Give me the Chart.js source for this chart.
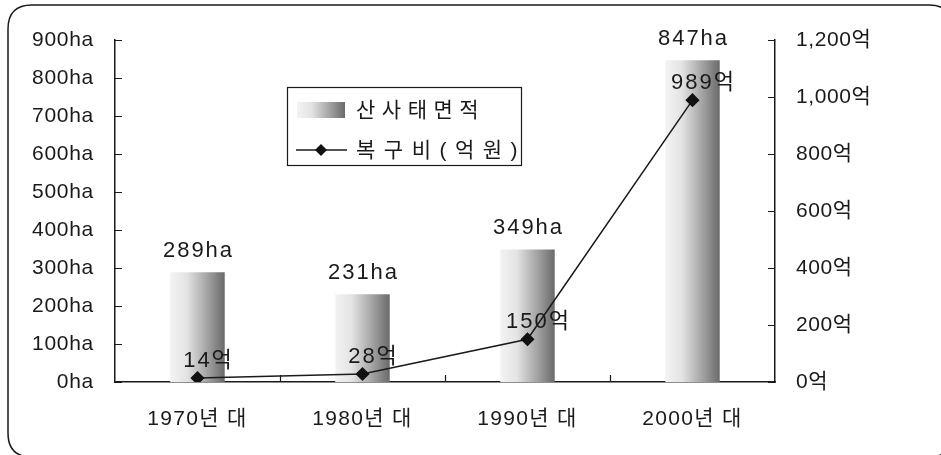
<!DOCTYPE html>
<html lang="ko">
<head>
<meta charset="utf-8">
<title>산사태 면적 및 복구비</title>
<script src="https://cdn.jsdelivr.net/npm/chart.js@4.4.1/dist/chart.umd.min.js"></script>
<style>
  html, body { margin: 0; padding: 0; background: #fff; }
  #wrap { width: 941px; height: 455px; }
</style>
</head>
<body>
<div id="wrap"><canvas id="chart" width="941" height="455"></canvas></div>
<script>
// decades shown on the category axis
const decades = ['1970년 대', '1980년 대', '1990년 대', '2000년 대'];
// landslide area per decade (ha)
const areaHa = [289, 231, 349, 847];
// restoration cost per decade (억원)
const costEok = [14, 28, 150, 989];
// axis labels
const areaTicks = [0, 100, 200, 300, 400, 500, 600, 700, 800, 900];
const costTicks = [0, 200, 400, 600, 800, 1000, 1200];
const seriesNames = ['산사태면적', '복구비(억원)'];

const FONT = '"Liberation Sans", Arial, "Noto Sans CJK KR", sans-serif';
const INK = '#1a1a1a';

function barGradient(ctx, x0, x1) {
  const g = ctx.createLinearGradient(x0, 0, x1, 0);
  g.addColorStop(0, '#f3f3f3');
  g.addColorStop(0.3, '#e4e4e4');
  g.addColorStop(0.65, '#a8a8a8');
  g.addColorStop(1, '#6a6a6a');
  return g;
}

// draw a scale's tick labels with extra letter spacing
function spacedLabels(scale, spacing) {
  if (scale._spaced) return;
  const orig = scale.drawLabels.bind(scale);
  scale.drawLabels = (area) => {
    const c = scale.ctx;
    c.save();
    c.letterSpacing = spacing;
    orig(area);
    c.restore();
  };
  scale._spaced = true;
}

// rounded outer frame
const framePlugin = {
  id: 'frame',
  beforeDraw(chart) {
    const c = chart.ctx;
    c.save();
    c.fillStyle = '#fff';
    c.fillRect(0, 0, chart.width, chart.height);
    const x = 8, y = 5, w = 945, h = 452, r = 24;
    c.beginPath();
    c.moveTo(x + r, y);
    c.lineTo(x + w - r, y);
    c.quadraticCurveTo(x + w, y, x + w, y + r);
    c.lineTo(x + w, y + h - r);
    c.quadraticCurveTo(x + w, y + h, x + w - r, y + h);
    c.lineTo(x + r, y + h);
    c.quadraticCurveTo(x, y + h, x, y + h - r);
    c.lineTo(x, y + r);
    c.quadraticCurveTo(x, y, x + r, y);
    c.strokeStyle = INK;
    c.lineWidth = 1.5;
    c.stroke();
    c.restore();
  }
};

// inward tick marks on all three axes
const innerTicks = {
  id: 'innerTicks',
  afterDraw(chart) {
    const c = chart.ctx;
    const { x, y, y1 } = chart.scales;
    const a = chart.chartArea;
    c.save();
    c.strokeStyle = INK;
    c.lineWidth = 1.2;
    c.beginPath();
    areaTicks.forEach(v => {
      const py = Math.round(y.getPixelForValue(v)) + 0.5;
      c.moveTo(a.left, py); c.lineTo(a.left + 7, py);
    });
    costTicks.forEach(v => {
      const py = Math.round(y1.getPixelForValue(v)) + 0.5;
      c.moveTo(a.right - 7, py); c.lineTo(a.right, py);
    });
    for (let i = 1; i < decades.length; i++) {
      const px = Math.round((x.getPixelForValue(i - 1) + x.getPixelForValue(i)) / 2) + 0.5;
      c.moveTo(px, a.bottom); c.lineTo(px, a.bottom - 7);
    }
    c.stroke();
    c.restore();
  }
};

// value labels and the boxed legend
const labelsAndLegend = {
  id: 'labelsAndLegend',
  afterDatasetsDraw(chart) {
    const c = chart.ctx;
    c.save();
    c.fillStyle = INK;
    c.textAlign = 'center';
    c.textBaseline = 'middle';
    c.font = '22px ' + FONT;
    c.letterSpacing = '2px';
    chart.getDatasetMeta(0).data.forEach((el, i) => {
      c.fillText(areaHa[i] + 'ha', el.x + 1, el.y - 21);
    });
    chart.getDatasetMeta(1).data.forEach((el, i) => {
      c.fillText(costEok[i] + '억', el.x + 11, el.y - 17);
    });

    // legend box
    const lx = 287, ly = 87, lw = 234, lh = 78;
    c.fillStyle = '#fff';
    c.fillRect(lx, ly, lw, lh);
    c.strokeStyle = INK;
    c.lineWidth = 1.2;
    c.strokeRect(lx + 0.5, ly + 0.5, lw, lh);

    c.fillStyle = barGradient(c, 297, 345);
    c.fillRect(297, 102, 48, 16);

    c.beginPath();
    c.moveTo(296, 150); c.lineTo(347, 150);
    c.lineWidth = 1.5;
    c.stroke();
    c.fillStyle = '#111';
    c.beginPath();
    c.moveTo(321, 144); c.lineTo(327, 150); c.lineTo(321, 156); c.lineTo(315, 150);
    c.closePath();
    c.fill();

    c.fillStyle = INK;
    c.textAlign = 'left';
    c.font = '21px ' + FONT;
    c.letterSpacing = '6.5px';
    c.fillText(seriesNames[0], 356, 111);
    c.letterSpacing = '8.5px';
    c.fillText(seriesNames[1], 356, 151);
    c.restore();
  }
};

const ctx = document.getElementById('chart').getContext('2d');
new Chart(ctx, {
  data: {
    labels: decades,
    datasets: [
      {
        type: 'bar',
        label: seriesNames[0],
        data: areaHa,
        yAxisID: 'y',
        order: 2,
        barPercentage: 0.33,
        categoryPercentage: 1,
        backgroundColor(context) {
          const chart = context.chart;
          const area = chart.chartArea;
          if (!area || context.dataIndex === undefined) return '#bbb';
          const xs = chart.scales.x;
          const cw = area.width / decades.length;
          const bw = cw * 0.33;
          const cx = xs.getPixelForValue(context.dataIndex);
          return barGradient(chart.ctx, cx - bw / 2, cx + bw / 2);
        },
        borderWidth: 0
      },
      {
        type: 'line',
        label: seriesNames[1],
        data: costEok,
        yAxisID: 'y1',
        order: 1,
        borderColor: INK,
        borderWidth: 1.5,
        pointStyle: 'rectRot',
        pointRadius: 6,
        pointBackgroundColor: '#111',
        pointBorderColor: '#111',
        tension: 0
      }
    ]
  },
  options: {
    responsive: false,
    animation: false,
    layout: { padding: { top: 40, left: 0, right: 0, bottom: 0 } },
    plugins: {
      legend: { display: false },
      tooltip: { enabled: false }
    },
    scales: {
      x: {
        grid: { display: false, drawTicks: false },
        border: { display: true, color: INK, width: 1.5 },
        ticks: { color: INK, font: { family: FONT, size: 21 }, padding: 25 },
        afterFit(s) { s.height = 73; spacedLabels(s, '1.3px'); }
      },
      y: {
        position: 'left',
        min: 0, max: 900,
        afterBuildTicks(s) { s.ticks = areaTicks.map(v => ({ value: v })); },
        grid: { display: false, drawTicks: false },
        border: { display: true, color: INK, width: 1.5 },
        ticks: {
          color: INK, font: { family: FONT, size: 21 }, padding: 21,
          callback: v => v + 'ha'
        },
        afterFit(s) { s.width = 115; spacedLabels(s, '0.7px'); }
      },
      y1: {
        position: 'right',
        min: 0, max: 1200,
        afterBuildTicks(s) { s.ticks = costTicks.map(v => ({ value: v })); },
        grid: { display: false, drawTicks: false },
        border: { display: true, color: INK, width: 1.5 },
        ticks: {
          color: INK, font: { family: FONT, size: 21 }, padding: 21,
          callback: v => v.toLocaleString('en-US') + '억'
        },
        afterFit(s) { s.width = 166; spacedLabels(s, '0.6px'); }
      }
    }
  },
  plugins: [framePlugin, innerTicks, labelsAndLegend]
});
</script>
</body>
</html>
